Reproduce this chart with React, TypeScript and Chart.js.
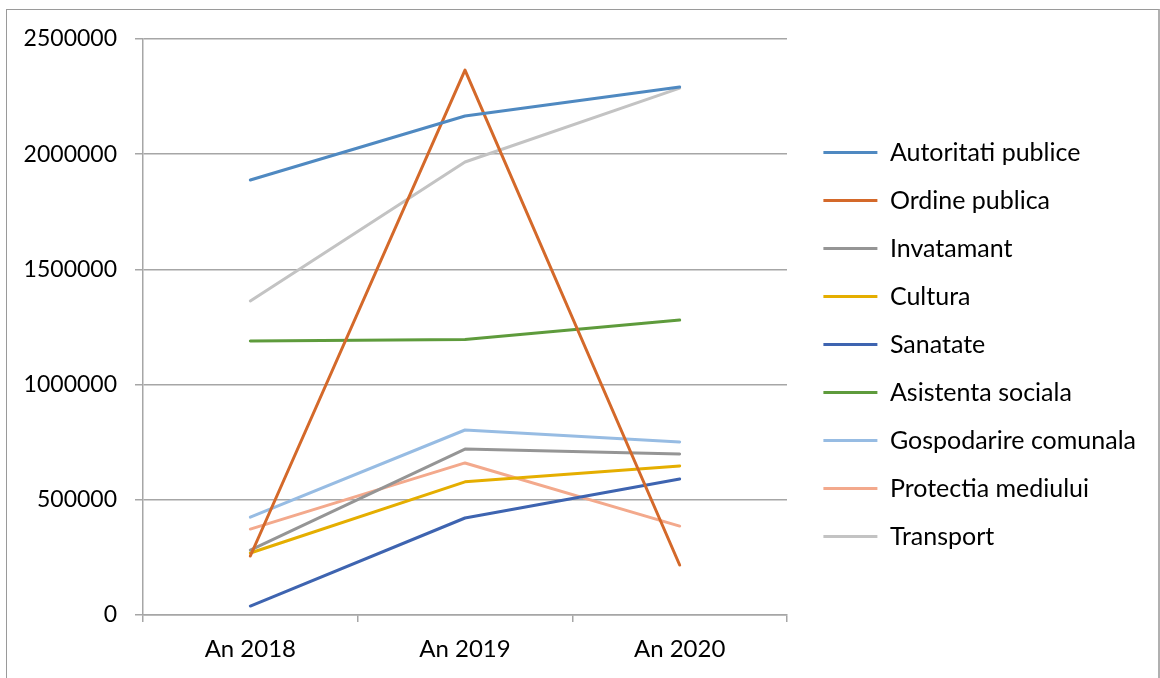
import React, { useEffect, useRef } from "react";
import { Chart, registerables } from "chart.js";

Chart.register(...registerables);

const categories = ["An 2018", "An 2019", "An 2020"];

const seriesNames = [
  "Autoritati publice",
  "Ordine publica",
  "Invatamant",
  "Cultura",
  "Sanatate",
  "Asistenta sociala",
  "Gospodarire comunala",
  "Protectia mediului",
  "Transport",
];

const autoritatiPublice = [1888000, 2166000, 2292000];
const ordinePublica = [256000, 2365000, 217000];
const invatamant = [282000, 720000, 699000];
const cultura = [269000, 578000, 647000];
const sanatate = [39000, 421000, 590000];
const asistentaSociala = [1189000, 1196000, 1280000];
const gospodarireComunala = [425000, 803000, 751000];
const protectiaMediului = [373000, 660000, 386000];
const transport = [1363000, 1966000, 2287000];

const seriesValues = [
  autoritatiPublice,
  ordinePublica,
  invatamant,
  cultura,
  sanatate,
  asistentaSociala,
  gospodarireComunala,
  protectiaMediului,
  transport,
];

const seriesColors = [
  "#4F89C1",
  "#D4692A",
  "#959595",
  "#E5AE00",
  "#3E64B0",
  "#5E9B3C",
  "#97BCE3",
  "#F3A98C",
  "#C3C3C3",
];

const yTicks = [0, 500000, 1000000, 1500000, 2000000, 2500000];

const FONT = "Lato";
const TICK_SIZE = 23;
const LEGEND_SIZE = 25;
const GRID = "#a6a6a6";
const PLOT_RIGHT = 787;
const PAD_RIGHT = 14;

export default function App() {
  const ref = useRef<HTMLCanvasElement | null>(null);

  useEffect(() => {
    if (!ref.current) return;
    const chart = new Chart(ref.current, {
      type: "line",
      data: {
        labels: categories,
        datasets: seriesNames.map((name, i) => ({
          label: name,
          data: seriesValues[i],
          borderColor: seriesColors[i],
          backgroundColor: seriesColors[i],
          borderWidth: 3,
          pointRadius: 0,
          pointHoverRadius: 0,
          tension: 0,
          borderCapStyle: "round",
          borderJoinStyle: "round",
          fill: false,
        })),
      },
      options: {
        responsive: false,
        animation: false,
        events: [],
        layout: { padding: { left: 0, top: 39, right: PAD_RIGHT, bottom: 0 } },
        plugins: {
          tooltip: { enabled: false },
          legend: {
            position: "right",
            align: "start",
            maxWidth: 420,
            title: {
              display: true,
              text: "",
              font: { family: FONT, size: 10, lineHeight: 1 },
              padding: { top: 68, bottom: 0 },
            },
            labels: {
              usePointStyle: true,
              pointStyle: "line",
              pointStyleWidth: 54,
              padding: 23,
              color: "#000",
              font: { family: FONT, size: LEGEND_SIZE },
            },
          },
        },
        scales: {
          x: {
            type: "category",
            offset: true,
            afterFit: (s: any) => {
              s.height = 63;
            },
            grid: {
              display: true,
              offset: true,
              drawOnChartArea: false,
              drawTicks: true,
              tickLength: 7,
              color: GRID,
              lineWidth: 1.5,
            },
            border: { display: true, color: GRID, width: 1.5 },
            ticks: {
              color: "#000",
              padding: 13,
              maxRotation: 0,
              font: { family: FONT, size: 24 },
            },
          },
          y: {
            type: "linear",
            min: 0,
            max: 2500000,
            afterBuildTicks: (s: any) => {
              s.ticks = yTicks.map((v) => ({ value: v }));
            },
            afterFit: (s: any) => {
              s.width = 143;
            },
            grid: {
              color: GRID,
              lineWidth: 1.5,
              drawTicks: true,
              tickLength: 8,
            },
            border: { display: true, color: GRID, width: 1.5 },
            ticks: {
              color: "#000",
              padding: 18,
              font: { family: FONT, size: TICK_SIZE },
              callback: (v: any) => String(v),
            },
          },
          gap: {
            type: "linear",
            position: "right",
            display: true,
            afterFit: (s: any) => {
              const lw = s.chart.legend ? s.chart.legend.width : 0;
              s.width = Math.max(0, s.chart.width - PAD_RIGHT - PLOT_RIGHT - lw);
            },
            grid: { display: false, drawTicks: false },
            border: { display: false },
            ticks: { display: false },
          },
        },
      },
    } as any);
    return () => chart.destroy();
  }, []);

  return (
    <div style={{ position: "absolute", left: 0, top: 0, width: 1160, height: 678, overflow: "hidden", background: "#fff" }}>
      <div
        style={{
          position: "absolute",
          left: 6,
          top: 9,
          width: 1151,
          height: 700,
          borderTop: "1px solid #9a9a9a",
          borderLeft: "1px solid #9a9a9a",
          borderRight: "2px solid #b0b0b0",
        }}
      />
      <canvas ref={ref} width={1160} height={678} style={{ position: "absolute", left: 0, top: 0 }} />
    </div>
  );
}
